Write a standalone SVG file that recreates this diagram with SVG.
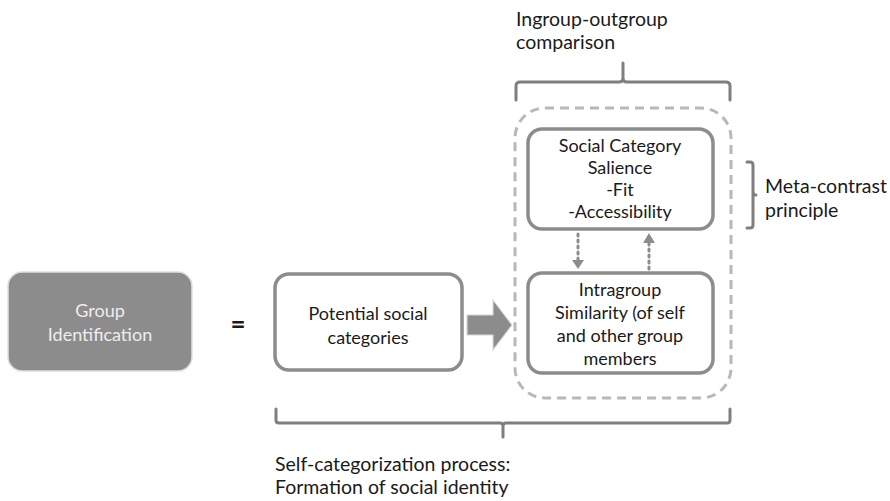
<svg xmlns="http://www.w3.org/2000/svg" width="890" height="501" viewBox="0 0 890 501">
<style>
text{font-family:Lato,"Open Sans","Liberation Sans",sans-serif;font-size:18px;fill:#1a1a1a}
.c{text-anchor:middle}
.o{font-size:19.5px}
.box{fill:#fff;stroke:#8c8c8c;stroke-width:3.5}
.br{fill:none;stroke:#7f7f7f;stroke-width:3;stroke-linejoin:round;stroke-linecap:round}
.dot{fill:none;stroke:#8c8c8c;stroke-width:3;stroke-dasharray:2 4;stroke-linecap:round}
</style>
<rect width="890" height="501" fill="#fff"/>
<g id="group-identification">
<rect x="8" y="272" width="184" height="99" rx="14" fill="#8c8c8c" stroke="#e0e0e0" stroke-width="1.5"/>
<text class="c" x="100" y="317" style="fill:#eeeeee">Group</text>
<text class="c" x="100" y="341" style="fill:#eeeeee">Identification</text>
</g>
<g id="equals">
<text class="c" x="238" y="333" style="font-size:26px;font-weight:bold">=</text>
</g>
<g id="potential">
<rect class="box" x="275" y="274" width="187" height="96" rx="14"/>
<text class="c" x="368" y="320">Potential social</text>
<text class="c" x="368" y="344">categories</text>
</g>
<g id="dashed-group">
<rect x="515" y="108" width="216" height="290" rx="30" fill="none" stroke="#b8b8b8" stroke-width="3" stroke-dasharray="9 6"/>
</g>
<g id="salience">
<rect class="box" x="528" y="129" width="185" height="100" rx="14"/>
<text class="c" x="620" y="152">Social Category</text>
<text class="c" x="620" y="174">Salience</text>
<text class="c" x="620" y="196">-Fit</text>
<text class="c" x="620" y="218">-Accessibility</text>
</g>
<g id="intragroup">
<rect class="box" x="528" y="273" width="185" height="100" rx="14"/>
<text class="c" x="620" y="296">Intragroup</text>
<text class="c" x="620" y="319">Similarity (of self</text>
<text class="c" x="620" y="342">and other group</text>
<text class="c" x="620" y="365">members</text>
</g>
<g id="labels">
<text class="o" x="516" y="26">Ingroup-outgroup</text>
<text class="o" x="516" y="49">comparison</text>
<text class="o" x="765" y="193">Meta-contrast</text>
<text class="o" x="765" y="217">principle</text>
<text class="o" x="275" y="471">Self-categorization process:</text>
<text class="o" x="275" y="494">Formation of social identity</text>
</g>
<g id="connectors">
<path d="M467,315 H493 V300 L512,325 L493,350 V335 H467 Z" fill="#8c8c8c" stroke="#d8d8d8" stroke-width="1.2"/>
<path class="dot" d="M578,234 V262"/>
<path d="M572,260 L578,269 L584,260 Z" fill="#8c8c8c"/>
<path class="dot" d="M649,269 V242"/>
<path d="M643,243 L649,233 L655,243 Z" fill="#8c8c8c"/>
<path class="br" d="M516,100 V86 Q516,82 520,82 H619 Q623,82 623,78 V63 M623,78 Q623,82 627,82 H726 Q730,82 730,86 V100"/>
<path class="br" d="M747,162 H750 Q753,162 753,165 V192 Q753,195 756,195 M753,192 Q753,195 753,198 V225 Q753,228 750,228 H747"/>
<path class="br" d="M276,409 V420 Q276,423 279,423 H500 Q503,423 503,426 V437 M503,426 Q503,423 506,423 H727 Q730,423 730,420 V409"/>
</g>
</svg>
